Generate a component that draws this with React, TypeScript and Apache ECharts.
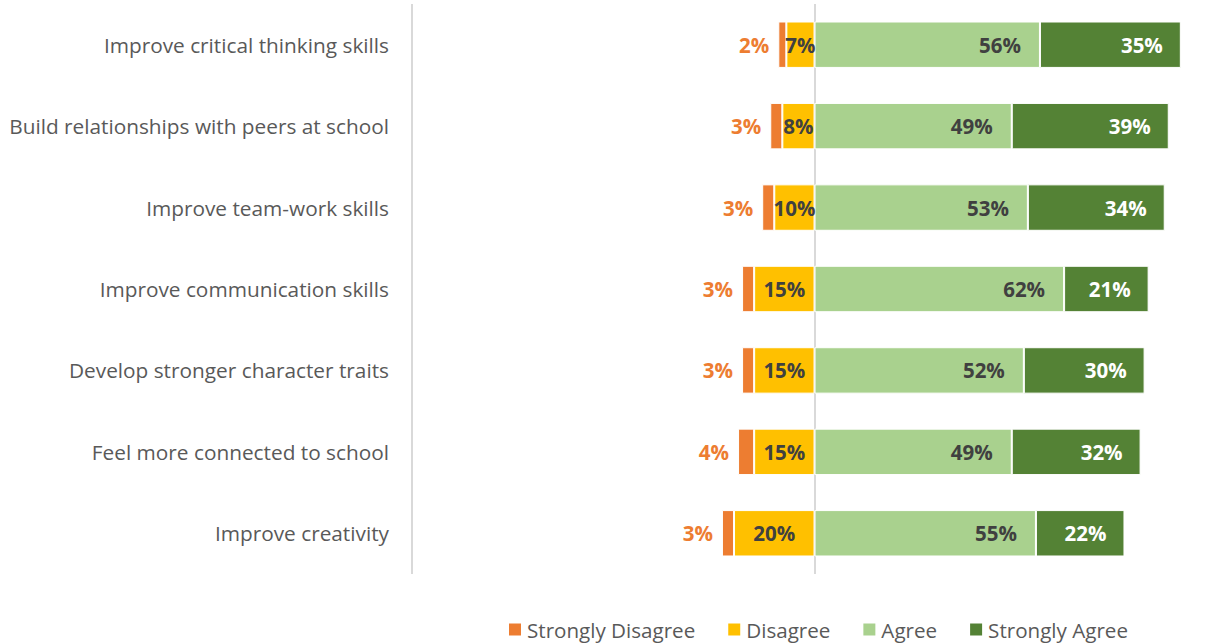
import React, { useEffect, useRef } from "react";
import * as echarts from "echarts";

const categories = [
  "Improve critical thinking skills",
  "Build relationships with peers at school",
  "Improve team-work skills",
  "Improve communication skills",
  "Develop stronger character traits",
  "Feel more connected to school",
  "Improve creativity",
];
const stronglyDisagree = [2, 3, 3, 3, 3, 4, 3];
const disagree = [7, 8, 10, 15, 15, 15, 20];
const agree = [56, 49, 53, 62, 52, 49, 55];
const stronglyAgree = [35, 39, 34, 21, 30, 32, 22];
const legendNames = ["Strongly Disagree", "Disagree", "Agree", "Strongly Agree"];

const FONT = "'Open Sans', sans-serif";

export default function App() {
  const ref = useRef<HTMLDivElement>(null);
  useEffect(() => {
    document.body.style.margin = "0";
    const chart = echarts.init(ref.current!, null, { renderer: "svg" });
    const pct = (p: any) => Math.abs(p.value) + "%";
    const bold = { fontFamily: FONT, fontWeight: "bold" as const, fontSize: 20.5 };
    chart.setOption({
      animation: false,
      grid: { left: 412, top: 4, right: 0, height: 570, containLabel: false },
      legend: {
        data: legendNames,
        left: 507,
        top: 619,
        padding: 0,
        itemWidth: 14,
        itemHeight: 14,
        itemGap: 31,
        icon: "rect",
        textStyle: { fontFamily: FONT, fontSize: 20.6, color: "#595959" },
      },
      xAxis: {
        type: "value",
        min: -100,
        max: 97.5,
        interval: 100,
        axisLabel: { show: false },
        axisLine: { show: false },
        axisTick: { show: false },
        splitLine: { show: true, showMaxLine: false, lineStyle: { color: "#D9D9D9", width: 2 } },
      },
      yAxis: {
        type: "category",
        data: categories,
        inverse: true,
        axisLine: { show: false },
        axisTick: { show: false },
        axisLabel: { fontFamily: FONT, fontSize: 20.8, color: "#595959", margin: 23 },
      },
      series: [
        {
          name: "Disagree",
          type: "bar",
          stack: "total",
          barCategoryGap: "43%",
          data: disagree.map((v) => -v),
          itemStyle: { color: "#FFC000", borderColor: "#fff", borderWidth: 1 },
          label: { show: true, position: "inside", formatter: pct, color: "#404040", ...bold },
        },
        {
          name: "Strongly Disagree",
          type: "bar",
          stack: "total",
          data: stronglyDisagree.map((v) => -v),
          itemStyle: { color: "#ED7D31", borderColor: "#fff", borderWidth: 1 },
          label: { show: true, position: "left", distance: 9, formatter: pct, color: "#ED7D31", ...bold },
        },
        {
          name: "Agree",
          type: "bar",
          stack: "total",
          data: agree,
          itemStyle: { color: "#A9D18E", borderColor: "#fff", borderWidth: 1 },
          label: { show: true, position: "insideRight", distance: 19, formatter: pct, color: "#404040", ...bold },
        },
        {
          name: "Strongly Agree",
          type: "bar",
          stack: "total",
          data: stronglyAgree,
          itemStyle: { color: "#548235", borderColor: "#fff", borderWidth: 1 },
          label: { show: true, position: "insideRight", distance: 18, formatter: pct, color: "#FFFFFF", ...bold },
        },
      ],
    });
    return () => chart.dispose();
  }, []);
  return <div ref={ref} style={{ width: 1207, height: 644 }} />;
}
